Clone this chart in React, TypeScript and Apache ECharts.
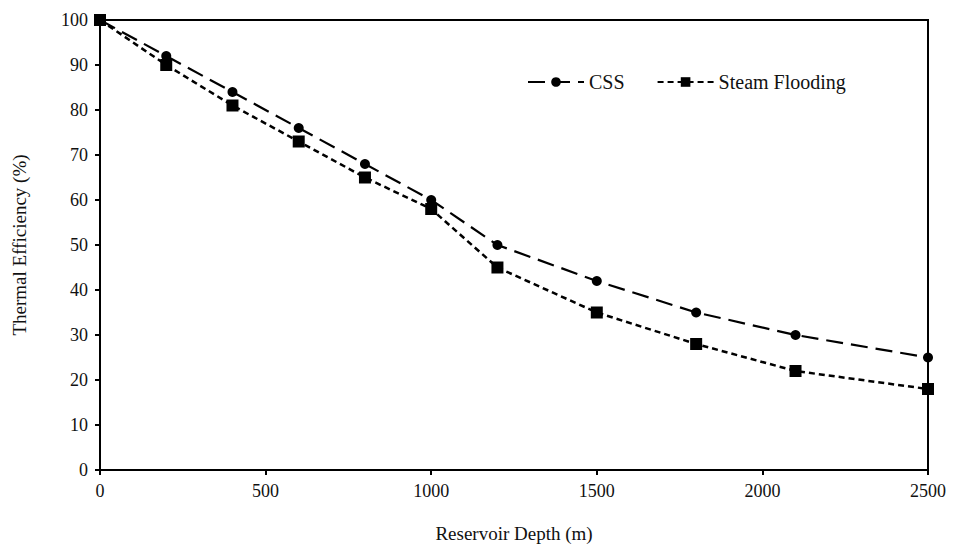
import React, { useEffect, useRef } from "react";
import * as echarts from "echarts";

const depths = [0, 200, 400, 600, 800, 1000, 1200, 1500, 1800, 2100, 2500];
const cssValues = [100, 92, 84, 76, 68, 60, 50, 42, 35, 30, 25];
const steamValues = [100, 90, 81, 73, 65, 58, 45, 35, 28, 22, 18];
const seriesNames = ["CSS", "Steam Flooding"];

export default function App() {
  const ref = useRef<HTMLDivElement>(null);
  useEffect(() => {
    document.body.style.margin = "0";
    const chart = echarts.init(ref.current!, null, { renderer: "svg" });
    const font = "'Liberation Serif', 'DejaVu Serif', serif";
    chart.setOption({
      animation: false,
      backgroundColor: "#fff",
      grid: { left: 100, right: 27, top: 20, bottom: 80, show: true, borderColor: "#000", borderWidth: 2 },
      legend: {
        top: 67,
        left: 522,
        itemWidth: 56,
        itemHeight: 12,
        itemGap: 32,
        textStyle: { fontFamily: font, fontSize: 20, color: "#111" },
        data: seriesNames,
      },
      xAxis: {
        type: "value",
        min: 0,
        max: 2500,
        interval: 500,
        name: "Reservoir Depth (m)",
        nameLocation: "middle",
        nameGap: 54,
        nameTextStyle: { fontFamily: font, fontSize: 19, color: "#111" },
        axisLine: { lineStyle: { color: "#000", width: 2 } },
        axisTick: { show: true, length: 5, lineStyle: { color: "#000", width: 2 } },
        axisLabel: { fontFamily: font, fontSize: 18, color: "#111", margin: 12, formatter: (v: number) => String(v) },
        splitLine: { show: false },
      },
      yAxis: {
        type: "value",
        min: 0,
        max: 100,
        interval: 10,
        name: "Thermal Efficiency (%)",
        nameLocation: "middle",
        nameGap: 71,
        nameTextStyle: { fontFamily: font, fontSize: 19, color: "#111" },
        axisLine: { show: true, lineStyle: { color: "#000", width: 2 } },
        axisTick: { show: true, length: 5, lineStyle: { color: "#000", width: 2 } },
        axisLabel: { fontFamily: font, fontSize: 18, color: "#111", margin: 12, formatter: (v: number) => String(v) },
        splitLine: { show: false },
      },
      series: [
        {
          name: seriesNames[0],
          type: "line",
          data: depths.map((d, i) => [d, cssValues[i]]),
          symbol: "circle",
          symbolSize: 10,
          itemStyle: { color: "#000" },
          lineStyle: { color: "#000", width: 2.2, type: [17, 8] },
          z: 3,
        },
        {
          name: seriesNames[1],
          type: "line",
          data: depths.map((d, i) => [d, steamValues[i]]),
          symbol: "rect",
          symbolSize: 12,
          itemStyle: { color: "#000" },
          lineStyle: { color: "#000", width: 2.5, type: [6, 4] },
          z: 2,
        },
      ],
    });
    return () => chart.dispose();
  }, []);
  return <div ref={ref} style={{ width: 955, height: 550 }} />;
}
